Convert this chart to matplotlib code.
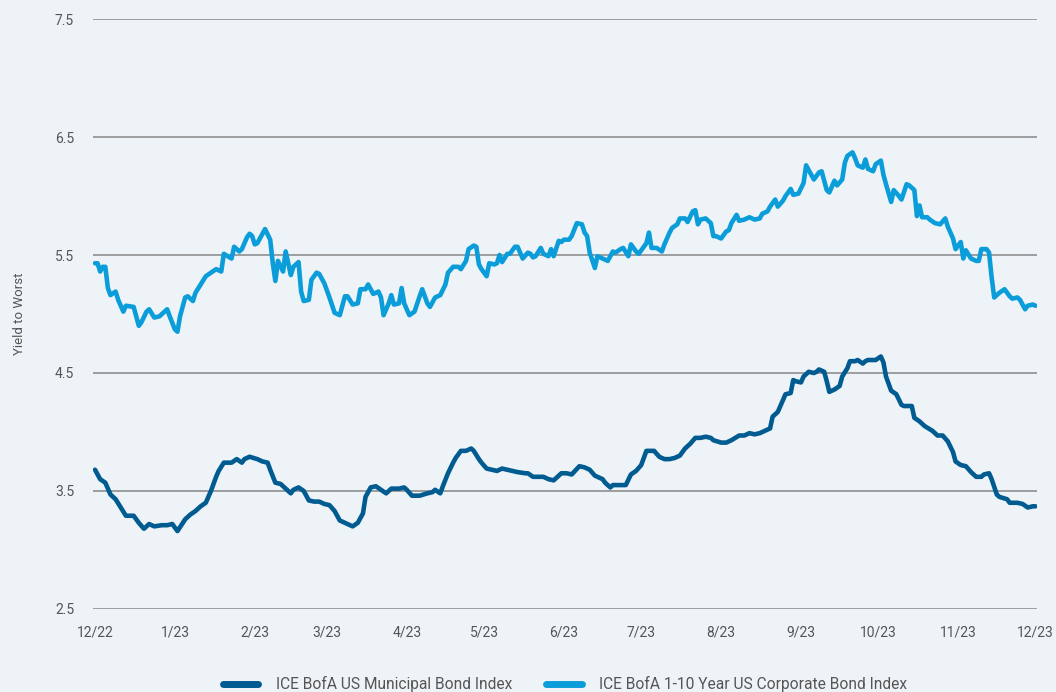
import numpy as np
import pandas as pd
import matplotlib
matplotlib.use('Agg')
import matplotlib.pyplot as plt
import matplotlib.dates as mdates

# ── Data (day offsets from 2022-12-01) ────────────────────────────────────────
START = pd.Timestamp('2022-12-01')

MUNI_LABEL = 'ICE BofA US Municipal Bond Index'
CORP_LABEL = 'ICE BofA 1-10 Year US Corporate Bond Index'

muni_days = [0, 2, 4, 6, 8, 10, 12, 15, 17, 19, 21, 23, 26, 28, 30, 31, 32, 35, 37, 39,
             41, 43, 45, 47, 48, 50, 53, 55, 57, 58, 60, 63, 65, 67, 68, 70, 72, 74, 76, 77,
             79, 81, 83, 85, 87, 89, 91, 93, 95, 97, 99, 100, 102, 104, 105, 107, 109, 111, 113, 115,
             118, 120, 121, 123, 126, 129, 131, 132, 134, 135, 137, 139, 140, 142, 144, 146, 147, 149, 150, 152,
             154, 156, 158, 160, 162, 164, 167, 168, 170, 172, 174, 176, 178, 180, 181, 183, 185, 188, 190, 192,
             194, 197, 198, 200, 201, 204, 206, 208, 210, 212, 213, 214, 217, 219, 221, 223, 225, 227, 229, 231,
             233, 235, 237, 239, 240, 243, 245, 247, 250, 252, 254, 256, 258, 260, 262, 263, 265, 267, 268, 270,
             271, 272, 274, 275, 277, 279, 280, 281, 283, 284, 285, 287, 289, 290, 292, 293, 295, 296, 298, 299,
             300, 303, 305, 306, 307, 309, 311, 313, 314, 317, 318, 320, 322, 325, 327, 329, 331, 333, 334, 336,
             338, 340, 342, 344, 345, 347, 348, 350, 351, 354, 355, 358, 360, 362, 364, 365]
muni_yield = [3.68, 3.60, 3.57, 3.47, 3.43, 3.36, 3.29, 3.29, 3.23, 3.18, 3.22, 3.20, 3.21, 3.21, 3.22, 3.19, 3.16, 3.26, 3.30, 3.33,
              3.37, 3.40, 3.50, 3.62, 3.67, 3.74, 3.74, 3.77, 3.74, 3.77, 3.79, 3.77, 3.75, 3.74, 3.68, 3.57, 3.56, 3.52, 3.48, 3.51,
              3.53, 3.50, 3.42, 3.41, 3.41, 3.39, 3.38, 3.33, 3.25, 3.23, 3.21, 3.20, 3.23, 3.31, 3.45, 3.53, 3.54, 3.51, 3.48, 3.52,
              3.52, 3.53, 3.51, 3.46, 3.46, 3.48, 3.49, 3.51, 3.48, 3.54, 3.65, 3.74, 3.78, 3.84, 3.84, 3.86, 3.84, 3.77, 3.74, 3.69,
              3.68, 3.67, 3.69, 3.68, 3.67, 3.66, 3.65, 3.65, 3.62, 3.62, 3.62, 3.60, 3.59, 3.63, 3.65, 3.65, 3.64, 3.71, 3.70, 3.68,
              3.63, 3.60, 3.57, 3.53, 3.55, 3.55, 3.55, 3.64, 3.67, 3.72, 3.78, 3.84, 3.84, 3.79, 3.77, 3.77, 3.78, 3.80, 3.86, 3.90,
              3.95, 3.95, 3.96, 3.95, 3.93, 3.91, 3.91, 3.93, 3.97, 3.97, 3.99, 3.98, 3.99, 4.01, 4.03, 4.13, 4.17, 4.27, 4.32, 4.33,
              4.44, 4.43, 4.42, 4.47, 4.51, 4.50, 4.51, 4.53, 4.51, 4.43, 4.34, 4.36, 4.39, 4.47, 4.54, 4.60, 4.60, 4.61, 4.58, 4.60,
              4.61, 4.61, 4.64, 4.59, 4.47, 4.35, 4.32, 4.23, 4.22, 4.22, 4.12, 4.09, 4.05, 4.01, 3.97, 3.97, 3.92, 3.83, 3.75, 3.72,
              3.71, 3.66, 3.62, 3.62, 3.64, 3.65, 3.60, 3.47, 3.45, 3.43, 3.40, 3.40, 3.39, 3.36, 3.37, 3.37]

corp_days = [0, 1, 2, 3, 4, 5, 6, 8, 9, 11, 12, 15, 17, 18, 20, 21, 23, 25, 28, 29,
             31, 32, 33, 35, 36, 38, 39, 41, 43, 45, 47, 49, 50, 53, 54, 56, 57, 59, 60, 61,
             62, 63, 65, 66, 68, 69, 70, 71, 73, 74, 76, 77, 79, 80, 81, 83, 84, 86, 87, 89,
             91, 93, 95, 97, 98, 100, 102, 103, 105, 106, 108, 110, 111, 112, 114, 115, 116, 118, 119, 120,
             122, 124, 126, 127, 129, 130, 132, 134, 136, 137, 139, 141, 142, 144, 145, 147, 148, 149, 150, 152,
             153, 155, 156, 157, 158, 160, 161, 163, 164, 166, 168, 169, 170, 171, 173, 174, 176, 177, 178, 180,
             181, 182, 184, 185, 187, 189, 190, 191, 192, 194, 195, 197, 199, 201, 202, 204, 205, 207, 208, 210,
             211, 213, 214, 215, 216, 218, 220, 221, 223, 224, 226, 227, 229, 230, 232, 233, 234, 235, 237, 239,
             240, 241, 243, 245, 246, 247, 249, 250, 252, 254, 256, 258, 259, 261, 262, 264, 265, 267, 268, 270,
             271, 273, 275, 276, 278, 279, 281, 282, 284, 285, 287, 288, 290, 291, 292, 294, 295, 296, 298, 299,
             300, 302, 303, 305, 306, 307, 309, 310, 312, 313, 315, 316, 318, 319, 320, 321, 323, 324, 326, 328,
             330, 331, 333, 334, 336, 337, 338, 340, 342, 343, 344, 346, 347, 348, 349, 351, 353, 355, 356, 358,
             359, 361, 362, 364, 365]
corp_yield = [5.43, 5.43, 5.36, 5.40, 5.40, 5.22, 5.16, 5.19, 5.12, 5.02, 5.07, 5.06, 4.90, 4.93, 5.02, 5.04, 4.97, 4.98, 5.04, 4.98,
              4.87, 4.85, 4.98, 5.14, 5.15, 5.11, 5.18, 5.25, 5.32, 5.35, 5.38, 5.36, 5.51, 5.47, 5.57, 5.53, 5.55, 5.65, 5.68, 5.66,
              5.59, 5.60, 5.68, 5.72, 5.63, 5.43, 5.28, 5.45, 5.36, 5.53, 5.33, 5.40, 5.44, 5.19, 5.11, 5.12, 5.29, 5.35, 5.34, 5.26,
              5.14, 5.01, 4.99, 5.15, 5.15, 5.08, 5.09, 5.21, 5.21, 5.25, 5.17, 5.19, 5.14, 4.99, 5.09, 5.16, 5.08, 5.09, 5.22, 5.09,
              4.99, 5.02, 5.15, 5.21, 5.09, 5.06, 5.14, 5.16, 5.25, 5.35, 5.40, 5.40, 5.38, 5.45, 5.55, 5.58, 5.57, 5.42, 5.38, 5.32,
              5.43, 5.42, 5.43, 5.50, 5.44, 5.51, 5.51, 5.57, 5.57, 5.47, 5.52, 5.51, 5.48, 5.49, 5.56, 5.51, 5.49, 5.55, 5.49, 5.62,
              5.61, 5.63, 5.63, 5.66, 5.77, 5.76, 5.69, 5.66, 5.52, 5.39, 5.49, 5.47, 5.45, 5.53, 5.52, 5.55, 5.56, 5.49, 5.59, 5.53,
              5.51, 5.57, 5.60, 5.69, 5.56, 5.56, 5.53, 5.59, 5.69, 5.73, 5.76, 5.81, 5.81, 5.78, 5.87, 5.88, 5.76, 5.80, 5.81, 5.77,
              5.66, 5.66, 5.64, 5.70, 5.71, 5.77, 5.84, 5.79, 5.80, 5.82, 5.80, 5.81, 5.85, 5.87, 5.91, 5.97, 5.91, 5.96, 6.00, 6.06,
              6.01, 6.02, 6.11, 6.26, 6.18, 6.14, 6.20, 6.21, 6.05, 6.03, 6.13, 6.09, 6.14, 6.28, 6.34, 6.37, 6.32, 6.26, 6.24, 6.31,
              6.23, 6.21, 6.27, 6.30, 6.18, 6.10, 5.95, 6.05, 6.00, 5.97, 6.10, 6.09, 6.05, 5.83, 5.92, 5.82, 5.82, 5.80, 5.77, 5.76,
              5.81, 5.74, 5.64, 5.55, 5.61, 5.47, 5.54, 5.47, 5.45, 5.45, 5.55, 5.55, 5.52, 5.31, 5.14, 5.18, 5.21, 5.15, 5.13, 5.14,
              5.12, 5.04, 5.07, 5.08, 5.07]

Y_TICKS = [2.5, 3.5, 4.5, 5.5, 6.5, 7.5]
X_TICKS = pd.date_range('2022-12-01', '2023-12-01', freq='MS')

# ── Style ─────────────────────────────────────────────────────────────────────
BG        = '#eef3f7'
DARK      = '#005b91'
LIGHT     = '#0b9dd9'
GRID      = '#8f8f8f'
TEXT      = '#555555'
plt.rcParams['font.family'] = ['Roboto', 'DejaVu Sans']

fig = plt.figure(figsize=(10.56, 6.92), dpi=100, facecolor=BG)
ax = fig.add_axes([0.0885, 0.12, 0.8935, 0.8525], facecolor=BG)

muni_dates = START + pd.to_timedelta(muni_days, unit='D')
corp_dates = START + pd.to_timedelta(corp_days, unit='D')

ax.plot(muni_dates, muni_yield, color=DARK, lw=3.3, solid_joinstyle='round',
        solid_capstyle='round', label=MUNI_LABEL, zorder=3)
ax.plot(corp_dates, corp_yield, color=LIGHT, lw=3.3, solid_joinstyle='round',
        solid_capstyle='round', label=CORP_LABEL, zorder=3)

ax.set_ylim(2.5, 7.5)
ax.set_yticks(Y_TICKS)
ax.set_yticklabels([f'{t:.1f}' for t in Y_TICKS])
ax.set_xlim(START - pd.Timedelta(days=0.6), START + pd.Timedelta(days=365.6))
ax.set_xticks(X_TICKS)
ax.xaxis.set_major_formatter(mdates.DateFormatter('%-m/%y'))

ax.grid(axis='y', color=GRID, lw=1.2, zorder=1)
ax.grid(axis='x', visible=False)
for s in ax.spines.values():
    s.set_visible(False)
ax.tick_params(axis='both', length=0, labelsize=10, labelcolor=TEXT)
ax.tick_params(axis='y', pad=14)
ax.tick_params(axis='x', pad=12)

ax.set_ylabel('Yield to Worst', fontsize=9.5, color=TEXT, labelpad=21)

fig.legend(loc='center', bbox_to_anchor=(0.535, 0.011), ncol=2, frameon=False,
           fontsize=11.2, handlelength=2.3, handletextpad=1.1, columnspacing=2.2,
           labelcolor=TEXT)
for line in fig.legends[0].get_lines():
    line.set_linewidth(5)

fig.savefig('out.png', dpi=100, facecolor=BG)
